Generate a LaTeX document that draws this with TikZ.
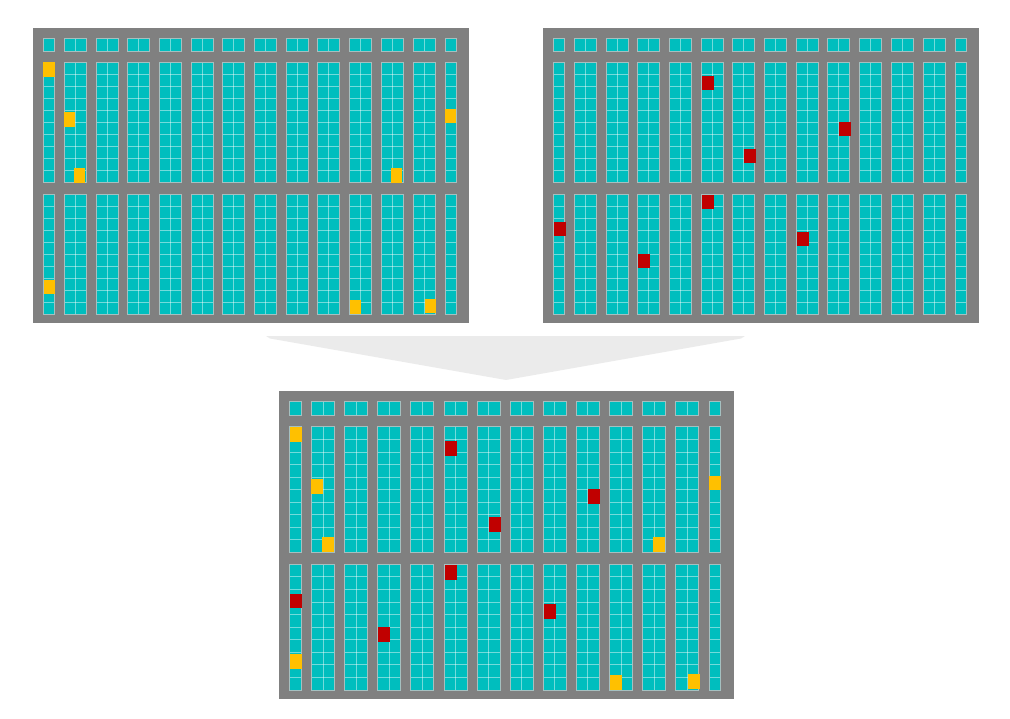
\documentclass[tikz,border=0pt]{standalone}
\usepackage{tikz}
\definecolor{panelgrey}{RGB}{128,128,128}
\definecolor{rackteal}{RGB}{0,190,190}
\definecolor{rackedgec}{RGB}{165,192,192}
\definecolor{hiyellow}{RGB}{255,192,0}
\definecolor{hired}{RGB}{192,0,0}
\definecolor{arrowgrey}{RGB}{235,235,235}
\tikzset{
  rack/.style={fill=rackteal},
  rackline/.style={draw=white, draw opacity=0.45, line width=0.9pt},
  rackedge/.style={draw=rackedgec, line width=1pt},
  hiY/.style={fill=hiyellow},
  hiR/.style={fill=hired},
  bigarrow/.style={fill=arrowgrey},
}
\newcommand\drawpanel{%
  \fill[panelgrey] (0,0) rectangle (436,295);
  \foreach \x/\n in {10.3/1, 31.3/2, 63/2, 94.7/2, 126.4/2, 158.1/2, 189.8/2, 221.5/2, 253.2/2, 284.9/2, 316.6/2, 348.3/2, 380/2, 412/1}{%
    \pgfmathsetmacro\w{11*\n}
    \fill[rack] (\x,10.3) rectangle ++(\w,13.4);
    \ifnum\n=2 \draw[rackline] (\x+11,10.3) -- ++(0,13.4); \fi
    \draw[rackedge] (\x,10.3) rectangle ++(\w,13.4);
    \foreach \y in {34.3,166}{%
      \fill[rack] (\x,\y) rectangle ++(\w,120.4);
      \foreach \k in {1,...,9} \draw[rackline] (\x,\y+12.04*\k) -- ++(\w,0);
      \ifnum\n=2 \draw[rackline] (\x+11,\y) -- ++(0,120.4); \fi
      \draw[rackedge] (\x,\y) rectangle ++(\w,120.4);
    }
  }
}
\newcommand\yellowcells{%
  \foreach \x/\y in {10.3/34.3, 31/84.3, 41/140.3, 358/140.3, 412/81, 11/252, 317/272, 392/271}
    \fill[hiY] (\x,\y) rectangle ++(11.3,14.2);
}
\newcommand\redcells{%
  \foreach \x/\y in {11/194, 95/226, 159/167, 254/204, 159/48, 201/121, 296/94}
    \fill[hiR] (\x,\y) rectangle ++(11.5,14.3);
}
\begin{document}
\begin{tikzpicture}[x=1pt,y=-1pt]
\useasboundingbox (0,0) rectangle (1010,718);
% top-left layout
\begin{scope}[shift={(33,28)}]
  \drawpanel
  \yellowcells
\end{scope}
% top-right layout
\begin{scope}[shift={(543,28)}]
  \drawpanel
  \redcells
\end{scope}
% merge arrow
\fill[bigarrow] (266,336) -- (745,336) -- (741,338.5) -- (506,380) -- (270,338.5) -- cycle;
% merged layout
\begin{scope}[shift={(279,391)}, scale=1.044]
  \drawpanel
  \yellowcells
  \redcells
\end{scope}
\end{tikzpicture}
\end{document}
